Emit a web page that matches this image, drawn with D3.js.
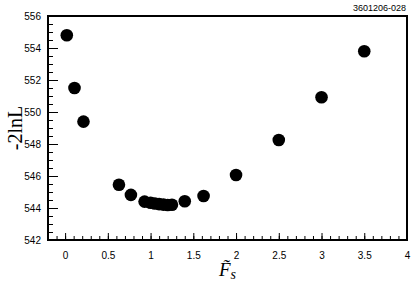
<!DOCTYPE html>
<html>
<head>
<meta charset="utf-8">
<script src="https://cdn.jsdelivr.net/npm/d3@7"></script>
<style>
	body { margin: 0; background: #fff; }
	.axis text { font-family: "Liberation Sans", Arial, sans-serif; font-size: 10px; fill: #000; }
</style>
</head>
<body>
<svg class="chart" width="415" height="287"></svg>
<script>
// Scan values
var fsValues = [0.02, 0.11, 0.215, 0.63, 0.77, 0.93, 1.0, 1.05, 1.1, 1.15, 1.2, 1.25, 1.4, 1.62, 2.0, 2.5, 3.0, 3.5];
var lnlValues = [554.8, 551.5, 549.4, 545.45, 544.82, 544.4, 544.33, 544.28, 544.24, 544.21, 544.19, 544.2, 544.42, 544.75, 546.06, 548.25, 550.92, 553.8];
var xTicks = [0, 0.5, 1, 1.5, 2, 2.5, 3, 3.5, 4];
var yTicks = [542, 544, 546, 548, 550, 552, 554, 556];

var margin = {top: 16, right: 8, bottom: 47, left: 48},
	width = 415 - margin.left - margin.right,
	height = 287 - margin.top - margin.bottom;

var x = d3.scaleLinear().domain([-0.2, 4]).range([0, width]);
var y = d3.scaleLinear().domain([542, 556]).range([height, 0]);

var svg = d3.select(".chart");
var chart = svg.append("g")
	.attr("transform", "translate(" + margin.left + "," + margin.top + ")");

// minor ticks
chart.append("g")
	.attr("class", "axis")
	.attr("transform", "translate(0," + height + ")")
	.call(d3.axisBottom(x).tickValues(d3.range(-0.1, 4.001, 0.1)).tickSize(-4).tickFormat(""))
	.call(function(g) { g.select(".domain").remove(); });
chart.append("g")
	.attr("class", "axis")
	.call(d3.axisLeft(y).tickValues(d3.range(542, 556.001, 0.5)).tickSize(-5).tickFormat(""))
	.call(function(g) { g.select(".domain").remove(); });

// major ticks + labels
var xAxis = chart.append("g")
	.attr("class", "axis")
	.attr("transform", "translate(0," + height + ")")
	.call(d3.axisBottom(x).tickValues(xTicks).tickSize(-7).tickPadding(12).tickFormat(d3.format("")));
xAxis.select(".domain").remove();

var yAxis = chart.append("g")
	.attr("class", "axis")
	.call(d3.axisLeft(y).tickValues(yTicks).tickSize(-10).tickPadding(7));
yAxis.select(".domain").remove();

// frame
chart.append("rect")
	.attr("width", width)
	.attr("height", height)
	.attr("fill", "none")
	.attr("stroke", "#000")
	.attr("stroke-width", 2);

// points
chart.selectAll(".dot")
	.data(fsValues)
  .enter().append("circle")
	.attr("class", "dot")
	.attr("cx", function(d) { return x(d); })
	.attr("cy", function(d, i) { return y(lnlValues[i]); })
	.attr("r", 6.3)
	.attr("fill", "#000");

// labels
svg.append("text")
	.attr("x", 406)
	.attr("y", 11)
	.attr("text-anchor", "end")
	.attr("font-family", "Liberation Sans, Arial, sans-serif")
	.attr("font-size", 9)
	.text("3601206-028");

var serif = "Liberation Serif, Times New Roman, serif";
svg.append("text")
	.attr("transform", "translate(22,128) rotate(-90)")
	.attr("text-anchor", "middle")
	.attr("font-family", serif)
	.attr("font-size", 20)
	.text("-2lnL");

var xt = svg.append("text")
	.attr("x", 219)
	.attr("y", 276)
	.attr("font-family", serif)
	.attr("font-style", "italic")
	.attr("font-size", 19);
xt.append("tspan").text("F\u0303");
xt.append("tspan").attr("dy", 3).attr("font-size", 14).text("s");
</script>
</body>
</html>
